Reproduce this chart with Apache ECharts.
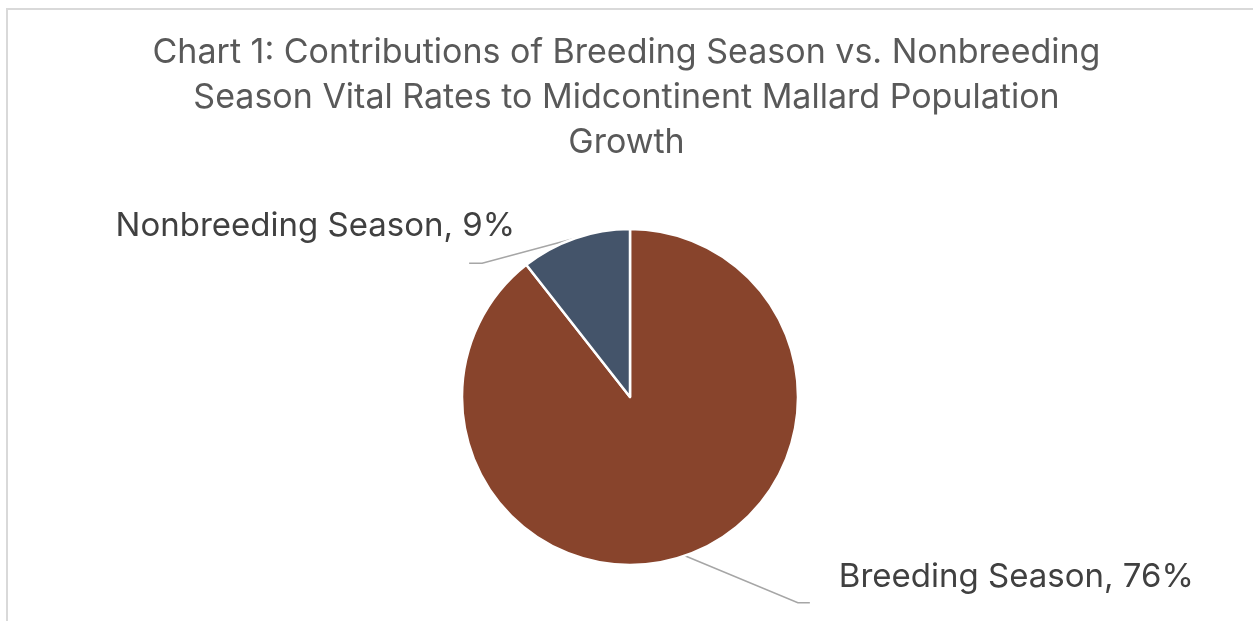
<!DOCTYPE html>
<html>
<head>
<meta charset="utf-8">
<script src="https://cdn.jsdelivr.net/npm/echarts@6/dist/echarts.min.js"></script>
<style>
    html, body { margin: 0; padding: 0; background: #ffffff; }
    #main { width: 1253px; height: 621px; }
</style>
</head>
<body>
<div id="main"></div>
<script>
// chart data
const titleLines = [
    'Chart 1: Contributions of Breeding Season vs. Nonbreeding',
    'Season Vital Rates to Midcontinent Mallard Population',
    'Growth'
];
const seasons = ['Breeding Season', 'Nonbreeding Season'];
const contributions = [76, 9];
const sliceColors = ['#88442c', '#44546a'];

// leader line bends and label offsets (by slice, pixels)
const leaderBends = [
    { bend: [113, 47], tail: [12, 0], label: [29, -26], align: 'left' },
    { bend: [-93, 25], tail: [-13, 0], label: [46, -37], align: 'right' }
];

document.addEventListener('DOMContentLoaded', function () {
    const chart = echarts.init(document.getElementById('main'));

    const option = {
        backgroundColor: '#ffffff',
        title: {
            text: titleLines.join('\n'),
            left: 'center',
            top: 30,
            padding: 0,
            textStyle: {
                fontFamily: 'Inter',
                fontWeight: 'normal',
                fontSize: 34,
                lineHeight: 45,
                color: '#595959'
            }
        },
        graphic: [{
            type: 'rect',
            shape: { x: 7, y: 9, width: 1300, height: 700 },
            style: { fill: 'none', stroke: '#d9d9d9', lineWidth: 2 },
            silent: true
        }],
        series: [{
            type: 'pie',
            center: [630, 397],
            radius: 168,
            startAngle: 90,
            clockwise: true,
            avoidLabelOverlap: false,
            itemStyle: {
                borderColor: '#ffffff',
                borderWidth: 2.5
            },
            label: {
                show: true,
                position: 'outside',
                formatter: '{b}, {c}%',
                fontFamily: 'Inter',
                fontSize: 33,
                color: '#404040'
            },
            labelLine: {
                show: true,
                length: 30,
                length2: 12,
                lineStyle: { color: '#a6a6a6', width: 1.5 }
            },
            labelLayout: function (params) {
                const cfg = leaderBends[params.dataIndex];
                const pts = params.labelLinePoints;
                if (!pts) return {};
                const p0 = pts[0];
                const p1 = [p0[0] + cfg.bend[0], p0[1] + cfg.bend[1]];
                const p2 = [p1[0] + cfg.tail[0], p1[1] + cfg.tail[1]];
                return {
                    x: p2[0] + cfg.label[0],
                    y: p2[1] + cfg.label[1],
                    align: cfg.align,
                    verticalAlign: 'middle',
                    labelLinePoints: [p0, p1, p2]
                };
            },
            data: seasons.map(function (name, i) {
                return {
                    name: name,
                    value: contributions[i],
                    itemStyle: { color: sliceColors[i] }
                };
            })
        }]
    };

    chart.setOption(option);

    window.addEventListener('resize', function () {
        chart.resize();
    });
});
</script>
</body>
</html>
